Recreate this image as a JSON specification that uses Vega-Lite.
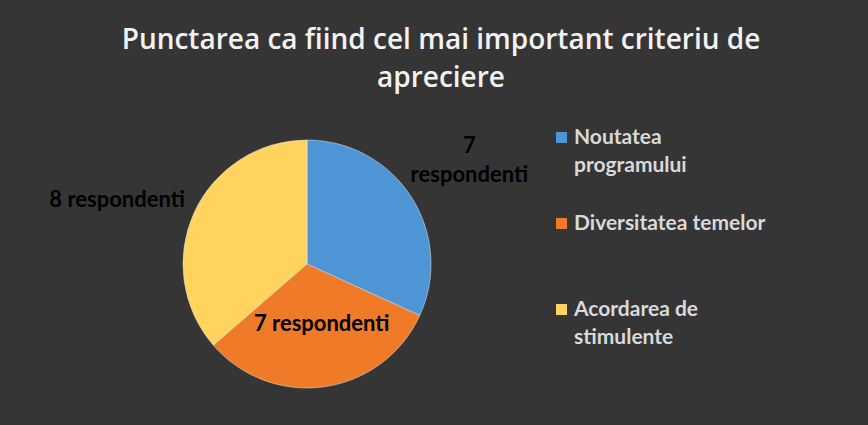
{
  "$schema": "https://vega.github.io/schema/vega-lite/v6.json",
  "width": 250,
  "height": 250,
  "autosize": "none",
  "padding": {"left": 182, "top": 139, "right": 436, "bottom": 36},
  "background": "#353535",
  "title": {
    "text": ["Punctarea ca fiind cel mai important criteriu de", "apreciere"],
    "color": "#f2f2f2",
    "font": "Open Sans",
    "fontSize": 28,
    "fontWeight": 600,
    "anchor": "middle",
    "frame": "group",
    "baseline": "alphabetic",
    "lineHeight": 38,
    "dx": 134,
    "offset": 12
  },
  "data": {
    "values": [
      {"cat": "Noutatea programului", "value": 7, "k": 1, "label": "7\nrespondenti"},
      {"cat": "Diversitatea temelor", "value": 7, "k": 2, "label": "7 respondenti"},
      {"cat": "Acordarea de stimulente", "value": 8, "k": 3, "label": "8 respondenti"}
    ]
  },
  "encoding": {
    "theta": {"field": "value", "type": "quantitative", "stack": true},
    "order": {"field": "k", "type": "quantitative"},
    "color": {
      "field": "cat",
      "type": "nominal",
      "sort": ["Noutatea programului", "Diversitatea temelor", "Acordarea de stimulente"],
      "scale": {
        "domain": ["Noutatea programului", "Diversitatea temelor", "Acordarea de stimulente"],
        "range": ["#4e95d6", "#ef7b28", "#fed45f"]
      },
      "legend": {
        "title": null,
        "orient": "none",
        "legendX": 369,
        "legendY": -12,
        "direction": "vertical",
        "padding": 0,
        "symbolType": "square",
        "symbolSize": 121,
        "symbolStrokeWidth": 0,
        "symbolOpacity": 1,
        "labelFont": "Lato",
        "labelFontSize": 21,
        "labelFontWeight": "bold",
        "labelColor": "#d9d9d9",
        "labelOffset": 2,
        "labelLimit": 300,
        "gridAlign": "all",
        "rowPadding": 36,
        "labelExpr": "datum.label == 'Noutatea programului' ? ['Noutatea','programului'] : datum.label == 'Acordarea de stimulente' ? ['Acordarea de','stimulente'] : datum.label"
      }
    }
  },
  "layer": [
    {"mark": {"type": "arc", "outerRadius": 124, "stroke": "#e8e8e8", "strokeWidth": 0.5}},
    {
      "mark": {
        "type": "text",
        "font": "Lato",
        "fontSize": 22,
        "fontWeight": "bold",
        "color": "#000000",
        "lineBreak": "\n",
        "lineHeight": 29,
        "radius": {"expr": "datum.k == 2 ? 61 : datum.k == 3 ? 200 : 193"},
        "dx": {"expr": "datum.k == 3 ? -8 : datum.k == 2 ? 6 : 0"},
        "dy": {"expr": "datum.k == 3 ? 19 : datum.k == 1 ? -14 : 0"}
      },
      "encoding": {"text": {"field": "label"}, "color": {"value": "#000000"}}
    }
  ],
  "config": {
    "view": {"stroke": null},
    "style": {"guide-label": {"lineHeight": 28}}
  }
}
